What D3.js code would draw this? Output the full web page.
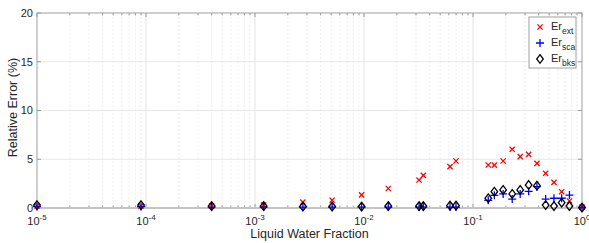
<!DOCTYPE html>
<html>
<head>
<meta charset="utf-8">
<script src="https://cdn.jsdelivr.net/npm/d3@7"></script>
<style>
  body { margin: 0; background: #fff; }
  text { font-family: "Liberation Sans", Arial, sans-serif; fill: #262626; }
</style>
</head>
<body>
<div id="chart"></div>
<script>
// liquid water fraction (x) and relative errors in %
const lwf = [1e-5, 9e-5, 4e-4, 1.2e-3, 2.75e-3, 5.1e-3, 9.5e-3, 0.0167, 0.032, 0.035, 0.0615, 0.0698,
             0.138, 0.157, 0.189, 0.229, 0.271, 0.324, 0.386, 0.464, 0.553, 0.651, 0.767, 1.0];
const erExt = [0.2, 0.2, 0.2, 0.3, 0.6, 0.8, 1.35, 2.0, 2.87, 3.35, 4.24, 4.82,
               4.41, 4.4, 4.82, 6.02, 5.27, 5.5, 4.58, 3.56, 2.63, 1.67, 0.72, 0.1];
const erSca = [0.15, 0.15, 0.1, 0.1, 0.1, 0.1, 0.1, 0.1, 0.1, 0.1, 0.1, 0.1,
               0.79, 1.3, 1.44, 0.92, 1.44, 1.71, 2.19, 0.92, 1.0, 1.0, 1.33, 0.05];
const erBks = [0.3, 0.3, 0.2, 0.2, 0.15, 0.15, 0.15, 0.2, 0.2, 0.2, 0.25, 0.25,
               1.0, 1.67, 1.85, 1.44, 1.85, 2.36, 2.29, 0.3, 0.2, 0.55, 0.2, 0.05];

const xTicks = [1e-5, 1e-4, 1e-3, 1e-2, 1e-1, 1];
const yTicks = [0, 5, 10, 15, 20];
const legendLabels = ["ext", "sca", "bks"];

const W = 589, H = 243;
const margin = {top: 13, right: 7, bottom: 35, left: 37};
const width = W - margin.left - margin.right,
      height = H - margin.top - margin.bottom;

const svg = d3.select("#chart").append("svg")
    .attr("width", W)
    .attr("height", H);
const g = svg.append("g")
    .attr("transform", `translate(${margin.left},${margin.top})`);

const x = d3.scaleLog().domain([1e-5, 1]).range([0, width]);
const y = d3.scaleLinear().domain([0, 20]).range([height, 0]);

// minor grid
const minor = [];
for (let e = -5; e < 0; e++) {
    for (let k = 2; k <= 9; k++) minor.push(k * Math.pow(10, e));
}
g.selectAll(".minor").data(minor).join("line")
    .attr("x1", d => x(d)).attr("x2", d => x(d))
    .attr("y1", 0).attr("y2", height)
    .attr("stroke", "#efefef").attr("stroke-dasharray", "2,2");

// major grid
g.selectAll(".gx").data(xTicks.slice(1, -1)).join("line")
    .attr("x1", d => x(d)).attr("x2", d => x(d))
    .attr("y1", 0).attr("y2", height)
    .attr("stroke", "#e3e3e3");
g.selectAll(".gy").data(yTicks.slice(1, -1)).join("line")
    .attr("x1", 0).attr("x2", width)
    .attr("y1", d => y(d)).attr("y2", d => y(d))
    .attr("stroke", "#e8e8e8");

// ticks inward, on all sides
const tickLen = 4;
g.selectAll(".tb").data(xTicks.concat(minor)).join("line")
    .attr("x1", d => x(d)).attr("x2", d => x(d))
    .attr("y1", height).attr("y2", d => height - (xTicks.includes(d) ? tickLen : tickLen * 0.6))
    .attr("stroke", "#999");
g.selectAll(".tt").data(xTicks.concat(minor)).join("line")
    .attr("x1", d => x(d)).attr("x2", d => x(d))
    .attr("y1", 0).attr("y2", d => (xTicks.includes(d) ? tickLen : tickLen * 0.6))
    .attr("stroke", "#999");
g.selectAll(".tl").data(yTicks).join("line")
    .attr("x1", 0).attr("x2", tickLen)
    .attr("y1", d => y(d)).attr("y2", d => y(d))
    .attr("stroke", "#999");
g.selectAll(".tr").data(yTicks).join("line")
    .attr("x1", width).attr("x2", width - tickLen)
    .attr("y1", d => y(d)).attr("y2", d => y(d))
    .attr("stroke", "#999");

// box
g.append("rect")
    .attr("width", width).attr("height", height)
    .attr("fill", "none").attr("stroke", "#a0a0a0");
g.append("line")
    .attr("x1", 0).attr("x2", width).attr("y1", height).attr("y2", height)
    .attr("stroke", "#c4c4c4").attr("stroke-width", 2);

// tick labels
g.selectAll(".yl").data(yTicks).join("text")
    .attr("x", -4).attr("y", d => y(d)).attr("dy", "0.35em")
    .attr("text-anchor", "end").attr("font-size", 11)
    .text(d => d);

const xl = g.selectAll(".xl").data(xTicks).join("text")
    .attr("x", d => x(d)).attr("y", height + 17)
    .attr("text-anchor", "middle").attr("font-size", 11);
xl.append("tspan").text("10");
xl.append("tspan").attr("dy", -5).attr("font-size", 8)
    .text(d => Math.round(Math.log10(d)) === 0 ? "0" : Math.round(Math.log10(d)));

// axis titles
svg.append("text")
    .attr("transform", `translate(17,${margin.top + height / 2 - 3}) rotate(-90)`)
    .attr("text-anchor", "middle").attr("font-size", 12.5)
    .text("Relative Error (%)");
svg.append("text")
    .attr("x", margin.left + width / 2).attr("y", H - 5)
    .attr("text-anchor", "middle").attr("font-size", 12.5)
    .text("Liquid Water Fraction");

// markers
const crossPath = s => `M${-s},${-s}L${s},${s}M${-s},${s}L${s},${-s}`;
const plusPath = s => `M${-s},0L${s},0M0,${-s}L0,${s}`;
const diamondPath = (w, h) => `M0,${-h}L${w},0L0,${h}L${-w},0Z`;

const plot = g.append("g");
plot.selectAll(".ext").data(lwf).join("path")
    .attr("transform", (d, i) => `translate(${x(d)},${y(erExt[i])})`)
    .attr("d", crossPath(2.6))
    .attr("stroke", "#ff0000").attr("stroke-width", 1.3).attr("fill", "none");
plot.selectAll(".sca").data(lwf).join("path")
    .attr("transform", (d, i) => `translate(${x(d)},${y(erSca[i])})`)
    .attr("d", plusPath(4))
    .attr("stroke", "#0000ff").attr("stroke-width", 1.3).attr("fill", "none");
plot.selectAll(".bks").data(lwf).join("path")
    .attr("transform", (d, i) => `translate(${x(d)},${y(erBks[i])})`)
    .attr("d", diamondPath(3.3, 4.3))
    .attr("stroke", "#000").attr("stroke-width", 1.3).attr("fill", "none");

// legend
const lg = svg.append("g").attr("transform", "translate(529,17)");
lg.append("rect").attr("width", 47).attr("height", 51)
    .attr("fill", "#fff").attr("stroke", "#a0a0a0");
const rows = lg.selectAll(".row").data(legendLabels).join("g")
    .attr("transform", (d, i) => `translate(0,${10 + i * 16})`);
rows.append("path")
    .attr("transform", "translate(11,0)")
    .attr("d", (d, i) => i === 0 ? crossPath(2.6) : i === 1 ? plusPath(4) : diamondPath(3.3, 4.3))
    .attr("stroke", (d, i) => ["#ff0000", "#0000ff", "#000"][i])
    .attr("stroke-width", 1.3).attr("fill", "none");
const lt = rows.append("text").attr("x", 22).attr("y", 3).attr("font-size", 11);
lt.append("tspan").text("Er");
lt.append("tspan").attr("dy", 4).attr("font-size", 8.5).text(d => d);
</script>
</body>
</html>
